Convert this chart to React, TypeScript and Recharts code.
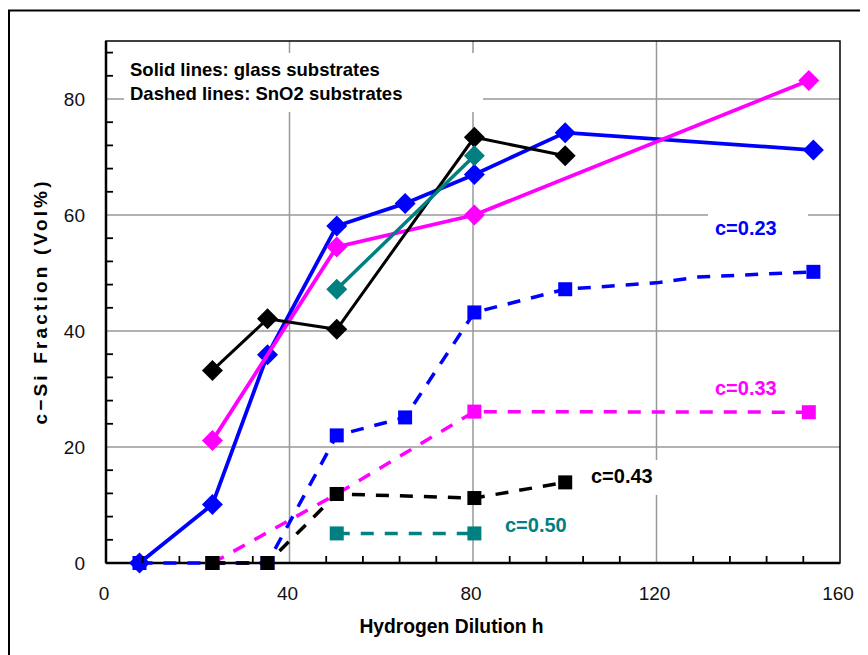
import React from 'react';
import { LineChart, Line, XAxis, YAxis, CartesianGrid, Customized } from 'recharts';

// ---- data ----
const glass023 = [
  { x: 7.3, y: 0 }, { x: 23.2, y: 10.1 }, { x: 35.2, y: 35.9 }, { x: 50.3, y: 58.1 },
  { x: 65.2, y: 62.0 }, { x: 80.3, y: 67.0 }, { x: 100.1, y: 74.2 }, { x: 154.2, y: 71.2 },
];
const glass033 = [
  { x: 23.2, y: 21.1 }, { x: 50.3, y: 54.5 }, { x: 80.3, y: 60.0 }, { x: 153.2, y: 83.2 },
];
const glass043 = [
  { x: 23.2, y: 33.2 }, { x: 35.2, y: 42.1 }, { x: 50.3, y: 40.3 }, { x: 80.3, y: 73.4 }, { x: 100.1, y: 70.2 },
];
const glass050 = [{ x: 50.3, y: 47.2 }, { x: 80.3, y: 70.2 }];

const sno023 = [
  { x: 7.3, y: 0 }, { x: 23.2, y: 0 }, { x: 35.2, y: 0 }, { x: 50.3, y: 22.0 }, { x: 65.2, y: 25.1 },
  { x: 80.3, y: 43.2 }, { x: 100.1, y: 47.2 }, { x: 120, y: 48.3, hidden: true }, { x: 129, y: 49.3, hidden: true },
  { x: 154.2, y: 50.2 },
];
const sno033 = [{ x: 23.2, y: 0 }, { x: 50.3, y: 11.9 }, { x: 80.3, y: 26.1 }, { x: 153.2, y: 26.0 }];
const sno043 = [{ x: 23.2, y: 0 }, { x: 35.2, y: 0 }, { x: 50.3, y: 11.9 }, { x: 80.3, y: 11.2 }, { x: 100.1, y: 13.9 }];
const sno050 = [{ x: 50.3, y: 5.1 }, { x: 80.3, y: 5.1 }];

const xTicks = [0, 8, 16, 24, 32, 40, 48, 56, 64, 72, 80, 88, 96, 104, 112, 120, 128, 136, 144, 152, 160];
const yTicks = [0, 4, 8, 12, 16, 20, 24, 28, 32, 36, 40, 44, 48, 52, 56, 60, 64, 68, 72, 76, 80, 84, 88];
const xLabelValues = [0, 40, 80, 120, 160];
const yLabelValues = [0, 20, 40, 60, 80];
const xGrid = [40, 80, 120];
const yGrid = [20, 40, 60, 80];

const BLUE = '#0000FF';
const MAGENTA = '#FF00FF';
const BLACK = '#000000';
const TEAL = '#008080';
const FONT = '"Liberation Sans", Arial, sans-serif';

const makeDot = (shape: string, color: string, size: number) => (props: any) => {
  const { cx, cy, index, payload } = props;
  if (cx == null || cy == null || (payload && payload.hidden)) return <g key={'d' + index} />;
  if (shape === 'diamond') {
    return (
      <polygon
        key={'d' + index}
        points={`${cx},${cy - size} ${cx + size},${cy} ${cx},${cy + size} ${cx - size},${cy}`}
        fill={color}
      />
    );
  }
  return <rect key={'d' + index} x={cx - size} y={cy - size} width={size * 2} height={size * 2} fill={color} />;
};

const XTick = (props: any) => {
  const { x, y, payload } = props;
  const v = payload.value;
  const major = xLabelValues.includes(v);
  return (
    <g>
      {!major ? <path d={`M${x},${y} L${x},${y - 7}`} stroke="#000" strokeWidth={1.8} /> : null}
      {major ? (
        <text x={x - 2} y={y + 37} textAnchor="middle" fontSize={19} fill="#111" fontFamily={FONT}>
          {v}
        </text>
      ) : null}
    </g>
  );
};

const YTick = (props: any) => {
  const { x, y, payload } = props;
  const v = payload.value;
  const major = yLabelValues.includes(v);
  return (
    <g>
      {!major ? <path d={`M${x},${y} L${x + 7},${y}`} stroke="#000" strokeWidth={1.8} /> : null}
      {major ? (
        <text x={x - 21} y={y + 7} textAnchor="end" fontSize={19} fill="#111" fontFamily={FONT}>
          {v}
        </text>
      ) : null}
    </g>
  );
};

const Overlay = () => (
  <g>
    {/* outer frame */}
    <path d="M1,647 L1,2.5 L860,2.5" stroke="#000" strokeWidth={2} fill="none" />
    {/* plot border */}
    <rect x={98} y={33} width={734} height={522} fill="none" stroke="#000" strokeWidth={1.5} />
    {/* annotation boxes */}
    <rect x={116} y={45} width={359} height={59} fill="#fff" />
    <text x={122} y={67.5} fontSize={18.5} fontWeight="bold" fontFamily={FONT} fill="#000">
      Solid lines: glass substrates
    </text>
    <text x={122} y={92} fontSize={18.5} fontWeight="bold" fontFamily={FONT} fill="#000">
      Dashed lines: SnO2 substrates
    </text>
    <rect x={700} y={197} width={100} height={40} fill="#fff" />
    <text x={707} y={227} fontSize={20} fontWeight="bold" fontFamily={FONT} fill={BLUE}>c=0.23</text>
    <text x={707} y={387} fontSize={20} fontWeight="bold" fontFamily={FONT} fill={MAGENTA}>c=0.33</text>
    <rect x={577} y={452} width={80} height={35} fill="#fff" />
    <text x={583} y={475} fontSize={20} fontWeight="bold" fontFamily={FONT} fill={BLACK}>c=0.43</text>
    <text x={497} y={524} fontSize={20} fontWeight="bold" fontFamily={FONT} fill={TEAL}>c=0.50</text>
    {/* axis titles */}
    <text x={443.5} y={625} textAnchor="middle" fontSize={19.3} fontWeight="bold" fontFamily={FONT} fill="#000">
      Hydrogen Dilution h
    </text>
    <text
      x={32}
      y={295}
      transform="rotate(-90, 32, 295)"
      textAnchor="middle"
      dominantBaseline="central"
      fontSize={19}
      fontWeight="bold"
      fontFamily={FONT}
      fill="#000"
      textLength={243}
      lengthAdjust="spacing"
    >
      c−Si Fraction (Vol%)
    </text>
  </g>
);

export default function App() {
  return (
    <div style={{ width: 860, height: 647 }}>
      <LineChart width={860} height={647} margin={{ top: 33, right: 28, bottom: 0, left: 0 }}>
        <CartesianGrid
          horizontalValues={yGrid}
          verticalValues={xGrid}
          stroke="#999"
          strokeWidth={1.5}
        />
        <Customized component={Overlay} />
        <XAxis
          type="number"
          dataKey="x"
          domain={[0, 160]}
          ticks={xTicks}
          interval={0}
          tickLine={false}
          tickSize={0}
          tickMargin={0}
          height={92}
          axisLine={{ stroke: '#000', strokeWidth: 2.5 }}
          tick={XTick}
        />
        <YAxis
          type="number"
          dataKey="y"
          domain={[0, 90]}
          ticks={yTicks}
          interval={0}
          tickLine={false}
          tickSize={0}
          tickMargin={0}
          width={98}
          axisLine={{ stroke: '#000', strokeWidth: 2.5 }}
          tick={YTick}
        />
        <Line data={sno023} dataKey="y" stroke={BLUE} strokeWidth={3.5} strokeDasharray="13 11" dot={makeDot('square', BLUE, 7)} isAnimationActive={false} zIndex={600} />
        <Line data={sno033} dataKey="y" stroke={MAGENTA} strokeWidth={3.5} strokeDasharray="13 11" dot={makeDot('square', MAGENTA, 7)} isAnimationActive={false} zIndex={600} />
        <Line data={sno043} dataKey="y" stroke={BLACK} strokeWidth={3.5} strokeDasharray="13 11" dot={makeDot('square', BLACK, 7)} isAnimationActive={false} zIndex={600} />
        <Line data={sno050} dataKey="y" stroke={TEAL} strokeWidth={3.5} strokeDasharray="13 11" dot={makeDot('square', TEAL, 7)} isAnimationActive={false} zIndex={600} />
        <Line data={glass023} dataKey="y" stroke={BLUE} strokeWidth={3.8} dot={makeDot('diamond', BLUE, 10.5)} isAnimationActive={false} zIndex={600} />
        <Line data={glass033} dataKey="y" stroke={MAGENTA} strokeWidth={3.8} dot={makeDot('diamond', MAGENTA, 10.5)} isAnimationActive={false} zIndex={600} />
        <Line data={glass043} dataKey="y" stroke={BLACK} strokeWidth={3} dot={makeDot('diamond', BLACK, 10.5)} isAnimationActive={false} zIndex={600} />
        <Line data={glass050} dataKey="y" stroke={TEAL} strokeWidth={3.5} dot={makeDot('diamond', TEAL, 10.5)} isAnimationActive={false} zIndex={600} />
      </LineChart>
    </div>
  );
}
